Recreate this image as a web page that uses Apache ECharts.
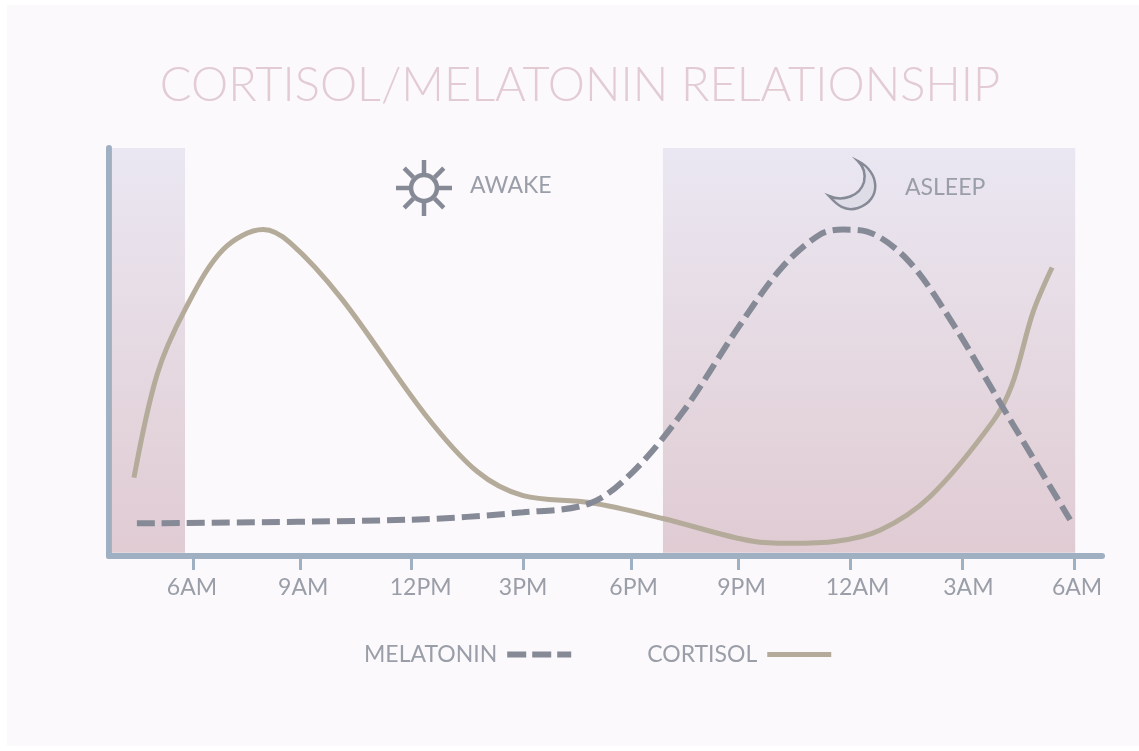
<!DOCTYPE html>
<html>
<head>
<meta charset="utf-8">
<style>
  html, body { margin: 0; padding: 0; background: #fff; }
  #chart { width: 1139px; height: 751px; }
</style>
<script src="https://cdn.jsdelivr.net/npm/echarts@6/dist/echarts.min.js"></script>
</head>
<body>
<div id="chart"></div>
<script>
// x is hours after the first 6AM, y is a 0-100 relative level
const tickHours = [0, 2.91, 5.94, 9.0, 11.93, 14.85, 17.9, 20.95, 24];
const labelHours = [-0.03, 3.0, 6.2, 8.99, 12.0, 14.94, 18.1, 21.12, 24.08];
const tickLabels = ["6AM", "9AM", "12PM", "3PM", "6PM", "9PM", "12AM", "3AM", "6AM"];
const levelTicks = [59, 80];

const cortisolHours = [-1.61, -0.98, -0.22, 0.82, 1.91, 2.64, 4.06, 6.32, 7.74, 8.99, 10.81, 12.8, 15.25, 16.26, 17.52, 18.71, 20.08, 21.79, 22.31, 22.88, 23.4];
const cortisolValues = [19.2, 44.5, 60.4, 75.1, 80.0, 76.8, 62.9, 34.7, 20.7, 14.8, 13.1, 9.2, 3.6, 3.1, 3.6, 6.3, 14.6, 33.0, 42.0, 59.7, 70.7];

const melatoninHours = [-1.53, 5.91, 8.99, 10.81, 11.99, 13.35, 14.85, 16.04, 17.08, 17.71, 18.36, 19.48, 20.68, 22.06, 23.89];
const melatoninValues = [8.0, 8.9, 10.7, 12.9, 20.7, 35.4, 56.0, 70.7, 78.8, 80.0, 79.5, 72.4, 57.2, 36.4, 8.9];

const sleepBands = [[-2.21, -0.22], [12.8, 24.03]];
const bandFloor = 0.8;

const axisColor = "#a0b0c3";
const textColor = "#9a9ea8";
const melatoninColor = "#868a96";
const cortisolColor = "#b5ab9a";
const fontFamily = "Lato, 'Open Sans', sans-serif";

const zip = (xs, ys) => xs.map((x, i) => [x, ys[i]]);

const bandFill = {
  type: "linear", x: 0, y: 0, x2: 0, y2: 1,
  colorStops: [
    { offset: 0, color: "#eae7f2" },
    { offset: 0.55, color: "#e5d8e0" },
    { offset: 1, color: "#e0cbd3" }
  ]
};

// graphic has no pathData element, so the moon is its own shape
echarts.graphic.registerShape("moon", echarts.graphic.extendShape({
  shape: {},
  buildPath(ctx) {
    ctx.moveTo(858, 161);
    ctx.bezierCurveTo(880, 172, 882, 200, 858, 208);
    ctx.bezierCurveTo(845, 212, 837, 205, 829, 196);
    ctx.bezierCurveTo(843, 202, 860, 196, 864, 182);
    ctx.bezierCurveTo(866, 173, 863, 166, 858, 161);
    ctx.closePath();
  }
}));

// sun rays around the circle
const sunX = 424, sunY = 188;
const sunRays = [0, 45, 90, 135, 180, 225, 270, 315].map(a => {
  const r = a * Math.PI / 180;
  return {
    type: "line",
    z: 100,
    shape: {
      x1: sunX + 15 * Math.cos(r), y1: sunY + 15 * Math.sin(r),
      x2: sunX + 28 * Math.cos(r), y2: sunY + 28 * Math.sin(r)
    },
    style: { stroke: melatoninColor, lineWidth: 4.5 }
  };
});

const chart = echarts.init(document.getElementById("chart"));
chart.setOption({
  animation: false,
  backgroundColor: "#ffffff",
  title: {
    text: "CORTISOL/MELATONIN RELATIONSHIP",
    left: 575,
    top: 57,
    textAlign: "center",
    textStyle: { color: "#e3cbd4", fontSize: 47, fontWeight: 300, fontFamily }
  },
  legend: {
    left: 359,
    top: 638,
    align: "right",
    itemWidth: 64,
    itemHeight: 6,
    itemGap: 73,
    textStyle: { color: textColor, fontSize: 23, fontFamily, padding: [0, 5, 0, 0] },
    data: [
      { name: "MELATONIN", lineStyle: { width: 6, type: [19, 6] } },
      { name: "CORTISOL", lineStyle: { width: 5 } }
    ]
  },
  grid: { left: 109, right: 37, top: 148, bottom: 195 },
  xAxis: {
    type: "value",
    min: -2.29,
    max: 24.76,
    splitLine: { show: false },
    axisLine: { lineStyle: { color: axisColor, width: 6 } },
    axisTick: { customValues: tickHours, length: 14, lineStyle: { color: axisColor, width: 3 } },
    axisLabel: {
      customValues: labelHours,
      margin: 20,
      color: textColor,
      fontSize: 23,
      fontFamily,
      formatter: v => tickLabels[labelHours.indexOf(v)]
    }
  },
  yAxis: {
    type: "value",
    min: 0,
    max: 100,
    splitLine: { show: false },
    axisLine: { show: true, onZero: false, lineStyle: { color: axisColor, width: 6 } },
    axisTick: { inside: true, customValues: levelTicks, length: 24, lineStyle: { color: axisColor, width: 3 } },
    axisLabel: { show: false }
  },
  series: [
    {
      name: "MELATONIN",
      type: "line",
      smooth: 0.33,
      symbol: "none",
      data: zip(melatoninHours, melatoninValues),
      lineStyle: { color: melatoninColor, width: 6, type: [18, 7] },
      itemStyle: { color: melatoninColor },
      z: 3,
      markArea: {
        silent: true,
        itemStyle: { color: bandFill },
        data: sleepBands.map(b => [{ xAxis: b[0], yAxis: bandFloor }, { xAxis: b[1], yAxis: 100 }])
      }
    },
    {
      name: "CORTISOL",
      type: "line",
      smooth: 0.33,
      symbol: "none",
      data: zip(cortisolHours, cortisolValues),
      lineStyle: { color: cortisolColor, width: 5 },
      itemStyle: { color: cortisolColor },
      z: 2
    }
  ],
  graphic: [
    {
      type: "rect",
      z: -10,
      shape: { x: 7, y: 5, width: 1132, height: 741 },
      style: { fill: "#fbf9fb" }
    },
    { type: "text", z: 100, x: 470, y: 174, style: { text: "AWAKE", fill: textColor, font: "23px " + fontFamily } },
    { type: "text", z: 100, x: 905, y: 176, style: { text: "ASLEEP", fill: textColor, font: "23px " + fontFamily } },
    {
      type: "circle",
      z: 100,
      shape: { cx: sunX, cy: sunY, r: 13 },
      style: { fill: "none", stroke: melatoninColor, lineWidth: 4.5 }
    },
    ...sunRays,
    {
      type: "moon",
      z: 100,
      style: { fill: "#dedce6", stroke: melatoninColor, lineWidth: 2.5 }
    }
  ]
});
</script>
</body>
</html>
